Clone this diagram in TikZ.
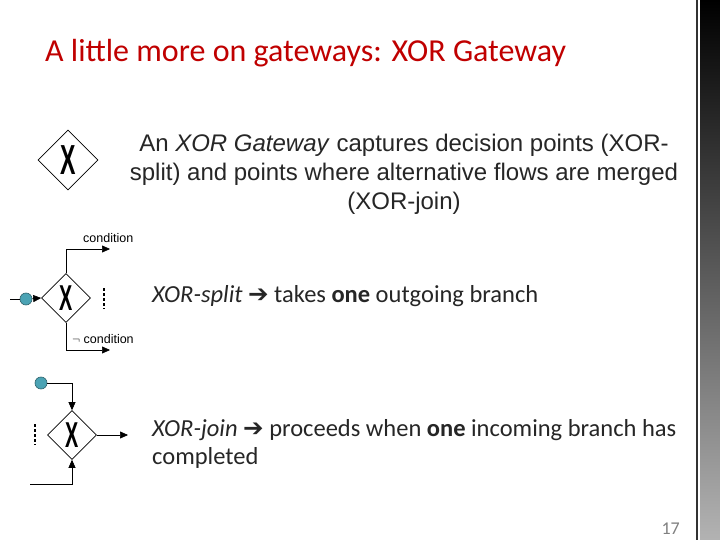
\documentclass[tikz,border=0pt]{standalone}
\usepackage{fontspec}
\setmainfont{Carlito}
\newfontfamily\arial{Liberation Sans}
\newfontfamily\dejavu{DejaVu Sans}
\usetikzlibrary{arrows.meta,shapes.geometric}
\definecolor{titlered}{HTML}{C00000}
\definecolor{teal}{HTML}{4BA3B4}
\definecolor{txt}{HTML}{262626}
\tikzset{
 gw/.style={draw,diamond,minimum width=#1,minimum height=#1,inner sep=0pt,line width=0.6pt},
 xmark/.style={font=\arial\bfseries\fontsize{42}{42}\selectfont,inner sep=0pt,xscale=0.55},
 flow/.style={line width=0.6pt},
 arr/.style={flow,-{Triangle[length=8pt,width=7pt]}},
 ev/.style={circle,draw=teal!60!black,fill=teal,minimum size=12pt,inner sep=0pt,line width=0.6pt},
 lbl/.style={font=\arial\fontsize{12.5}{12.5}\selectfont,inner sep=0pt,anchor=west},
 body/.style={font=\fontsize{24.5}{28}\selectfont,inner sep=0pt,anchor=west,align=left,text=txt},
 dots/.style={line width=1.4pt,dash pattern=on 2.5pt off 2.5pt}
}
\newcommand{\arrowsym}{{\dejavu\char"2794}}
\begin{document}
\begin{tikzpicture}[x=1pt,y=-1pt]
\useasboundingbox (0,0) rectangle (720,540);
\fill[white] (0,0) rectangle (720,540);
% right bar
\shade[top color=black,bottom color=gray!60] (700,0) rectangle (720,540);
\draw[line width=1.5pt,black!80] (697,0) -- (697,540);
% title
\node[anchor=base west,inner sep=0pt,text=titlered,font=\fontsize{32}{36}\selectfont] (title) at (45,62) {A little more on gateways: XOR Gateway};
% top icon
\node[gw=60pt] (g0) at (68,160) {};
\node[xmark] (x0) at (g0) {X};
\node[font=\arial\fontsize{24}{29}\selectfont,align=center,inner sep=0pt,text=txt] (desc) at (404,174) {An \textit{XOR Gateway} captures decision points (XOR-\\split) and points where alternative flows are merged\\(XOR-join)};
% split
\node[gw=49pt] (g1) at (66,298) {};
\node[xmark,font=\arial\bfseries\fontsize{36}{36}\selectfont] (x1) at (g1) {X};
\node[ev] (e1) at (26,299) {};
\coordinate (l1) at (10,299);
\draw[flow] (l1) -- (e1);
\draw[arr] (e1) -- (g1.west);
\coordinate (t1) at (66,249); \coordinate (t2) at (110,249);
\coordinate (b1) at (66,350); \coordinate (b2) at (110,350);
\draw[arr] (g1.north) -- (t1) -- (t2);
\draw[arr] (g1.south) -- (b1) -- (b2);
\node[lbl] (c1) at (83,238) {condition};
\node[lbl] (c2) at (72,339) {$\neg$ condition};
\coordinate (d1) at (104,288); \coordinate (d2) at (104,309);
\draw[dots] (d1) -- (d2);
\node[body] (s1) at (152,296) {\textit{XOR-split} \arrowsym{} takes \textbf{one} outgoing branch};
% join
\node[gw=49pt] (g2) at (72,435) {};
\node[xmark,font=\arial\bfseries\fontsize{36}{36}\selectfont] (x2) at (g2) {X};
\node[ev] (e2) at (41,383) {};
\coordinate (j1) at (72,383);
\draw[arr] (e2) -- (j1) -- (g2.north);
\coordinate (k1) at (30,484); \coordinate (k2) at (72,484);
\draw[arr] (k1) -- (k2) -- (g2.south);
\coordinate (o1) at (128,435);
\draw[arr] (g2.east) -- (o1);
\coordinate (d3) at (35,424); \coordinate (d4) at (35,445);
\draw[dots] (d3) -- (d4);
\node[body,anchor=north west] (s2) at (152,419) {\textit{XOR-join} \arrowsym{} proceeds when \textbf{one} incoming branch has\\completed};
\node[anchor=base east,inner sep=0pt,text=gray,font=\fontsize{18}{18}\selectfont] (pg) at (680,534) {17};
\end{tikzpicture}
\end{document}
